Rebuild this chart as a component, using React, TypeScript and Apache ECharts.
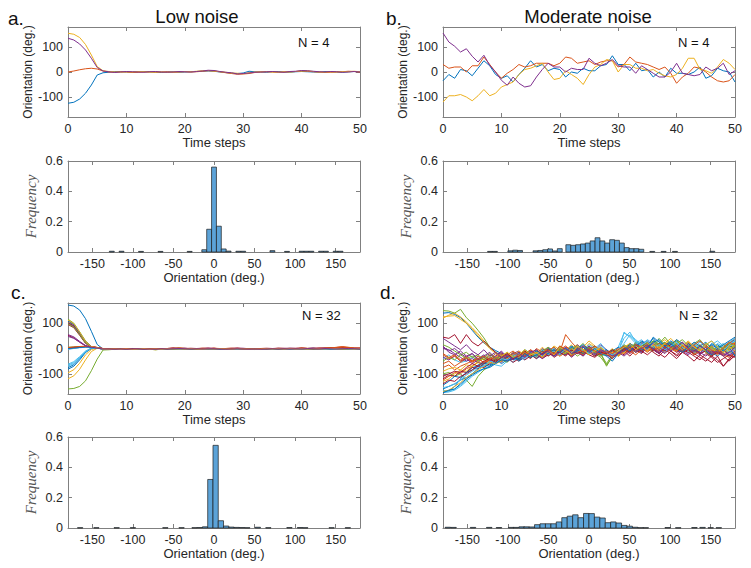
import React, { useEffect, useRef } from "react";
import * as echarts from "echarts";

// ---------- data ----------
const COLORS = ["#0072BD", "#D95319", "#EDB120", "#7E2F8E", "#77AC30", "#4DBEEE", "#A2142F"];
const TIME_STEPS = Array.from({ length: 51 }, (_, i) => i);
const TIME_TICKS = [0, 10, 20, 30, 40, 50];
const ORIENT_TICKS = [-100, 0, 100];
const HIST_X_TICKS = [-150, -100, -50, 0, 50, 100, 150];
const FREQ_TICKS = [0, 0.2, 0.4, 0.6];

// Panel a: low noise, N = 4
const A_BLUE = [-125,-121,-108,-85,-52,-12,-3,-1,2,1,0,-1,1,2,0,-1,-2,0,1,-1,0,1,2,3,4,3,0,-2,-5,-6,-4,3,1,0,-1,1,2,0,-1,1,2,1,0,-1,2,1,0,-1,1,2,0];
const A_RED = [0,4,9,13,15,12,4,0,-1,1,0,-2,-1,0,1,-1,0,1,-1,0,1,0,1,3,5,4,1,-3,-6,-9,-8,-6,-2,0,1,0,-1,0,1,2,4,3,1,0,-2,-1,0,1,3,2,-1];
const A_YELLOW = [155,151,138,110,68,22,5,2,0,-1,1,0,2,1,-1,0,1,-2,0,1,2,1,3,5,6,4,1,-1,-4,-5,-7,-3,0,1,2,0,-1,1,0,2,4,5,2,0,-1,1,0,2,1,3,1];
const A_PURPLE = [135,128,112,88,55,18,4,1,-2,0,2,1,0,-1,1,2,0,-1,0,2,1,0,2,4,7,6,2,-1,-3,-8,-6,-4,-1,0,1,2,0,-1,2,3,6,5,3,1,0,2,1,-1,0,2,0];
const PANEL_A = [A_BLUE, A_RED, A_YELLOW, A_PURPLE];

// Panel b: moderate noise, N = 4
const B_BLUE = [-35,-10,-25,10,5,-15,15,45,25,-10,-25,-15,-40,-10,15,45,20,30,5,15,10,-20,0,-5,15,5,5,25,30,65,30,30,5,35,5,10,-20,0,-20,15,-5,-5,-10,0,20,-25,-15,15,5,0,-40];
const B_RED = [30,15,20,20,0,25,25,60,30,0,-25,-5,10,30,20,25,35,35,35,25,35,60,55,35,40,45,30,40,45,45,20,30,60,40,35,30,20,10,20,-5,-45,-20,-5,20,15,0,-20,-35,-40,-35,-10];
const B_YELLOW = [-120,-95,-95,-90,-100,-115,-95,-70,-95,-85,-60,-50,-40,-10,10,15,25,35,0,-30,-25,5,-10,-25,-50,-10,20,30,50,45,0,30,30,15,15,5,10,-5,-15,-20,-10,15,55,55,10,5,-5,20,50,35,10];
const B_PURPLE = [156,120,103,80,93,63,40,67,27,0,-33,-53,-20,-45,-60,-55,-20,10,35,20,20,0,15,10,10,55,35,25,35,50,25,20,20,-5,25,10,-5,-20,-20,0,35,-5,-10,-15,-10,20,5,15,35,-10,5];
const PANEL_B = [B_BLUE, B_RED, B_YELLOW, B_PURPLE];

// Panel c: low noise, N = 32
const C00 = [172,168,152,118,68,16,-2,-3,-4,-2,-3,-1,-2,-4,-3,-1,0,-2,-1,1,-1,-2,-3,-1,-2,0,-1,-3,-2,-1,-3,-4,-2,-3,-1,-2,0,-1,-2,-3,-1,0,1,-1,-2,-3,-1,0,-2,-1,-3];
const C01 = [2,4,6,8,7,4,-1,-2,-1,-3,-2,0,-1,-3,-2,-4,-1,0,-1,2,0,-1,-2,0,-1,1,-2,-1,-3,-2,0,-2,-4,-1,-2,-3,-1,0,-2,-1,1,0,-1,-2,0,2,5,6,3,0,-1];
const C02 = [-120,-108,-82,-45,-12,1,-2,-3,-2,-4,-1,-3,-2,-1,-3,-5,-2,-1,-2,0,-2,-3,-1,-2,-1,0,-3,-2,-1,0,-2,-3,-4,-2,-1,-3,-2,-1,0,-2,-1,-3,-2,0,-1,-2,1,-1,-2,0,-2];
const C03 = [112,96,62,28,8,3,-2,-4,-3,-2,-4,-2,-3,-1,-2,-3,-1,0,-2,-1,1,-1,-2,-3,-2,-1,-2,0,-1,-2,-3,-2,-4,-3,-2,-1,-2,-3,-1,0,-1,-2,-1,1,0,-2,-1,0,-1,-3,-2];
const C04 = [-160,-158,-150,-128,-88,-42,-6,-5,-3,-4,-2,-3,-1,-2,-4,-2,-1,-2,0,-1,-2,0,-1,-2,-1,-2,-3,-1,-2,0,-1,-3,-2,-3,-1,-2,0,-1,-2,0,-2,-1,0,-1,-2,-1,0,1,-1,-2,-1];
const C05 = [-62,-52,-32,-10,2,1,-3,-2,-4,-3,-1,-2,-3,-2,-4,-3,-2,-1,-3,-1,0,-2,-1,0,-1,-2,-1,-3,-2,-1,-2,-3,-1,-4,-2,-3,-1,-2,-1,-3,0,-1,-2,0,-1,-3,-2,-1,0,-2,-1];
const C06 = [52,42,25,10,5,2,-1,-1,-2,0,-2,-1,0,-2,-1,-3,-1,0,1,0,-1,1,0,-1,0,1,-1,0,-1,1,0,-1,-2,0,-1,0,1,0,-1,0,1,0,-1,1,2,1,0,2,1,0,1];
const C07 = [-76,-64,-40,-14,1,2,-2,-3,-2,-3,-4,-2,-1,-3,-2,-4,-2,-1,-2,0,-1,-3,-2,-1,-2,-1,-2,-4,-3,-1,-2,-3,-2,-3,-2,-4,-1,-2,-3,-1,-2,0,-1,-2,-3,-1,-2,0,-1,-2,-3];
const C08 = [100,86,55,22,6,2,-2,-2,-3,-1,-2,-3,-1,-2,-3,-2,0,-1,-2,1,0,-1,-3,-1,0,-1,-2,-1,-2,0,-1,-2,-3,-1,-2,-1,0,-2,-1,0,-1,-2,0,1,0,-1,2,4,3,1,0];
const C09 = [-96,-84,-58,-25,-4,2,-2,-4,-2,-3,-2,-4,-3,-1,-2,-4,-2,-3,-1,-2,-1,-2,-3,-2,0,-2,-1,-2,-3,-2,-1,-3,-2,-4,-2,-1,-3,-2,-1,-2,-3,-1,-2,-1,0,-2,-1,-3,-2,-1,-2];
const C10 = [55,46,28,12,5,2,-2,-2,-1,-3,-2,-1,-2,-3,-2,-1,-2,0,-1,0,-2,-1,-2,0,-1,0,-2,-1,0,-2,-1,-2,-3,-2,0,-1,-2,-1,0,-1,-2,0,-1,0,1,0,-1,1,0,-1,0];
const C11 = [116,100,66,30,8,3,-2,-3,-4,-2,-3,-2,-4,-2,-3,-5,-3,-2,-1,-2,-1,-3,-2,-1,-2,0,-2,-3,-1,-2,-1,-3,-4,-2,-3,-2,-1,-2,-3,-2,-1,-2,-1,-2,-1,0,-2,-1,-3,-2,-1];
const C12 = [-66,-56,-35,-12,1,2,-2,-2,-3,-4,-2,-3,-2,-1,-3,-2,-4,-2,0,-2,-1,-2,-1,-3,-1,-2,-3,-1,-2,-1,0,-2,-3,-2,-1,-3,-2,0,-1,-2,-1,-3,-1,-2,0,-1,-2,0,-1,-3,-2];
const C13 = [95,82,52,20,6,2,-1,-1,-2,-1,0,-2,-1,-2,0,-1,-2,0,1,-1,0,-1,0,1,0,-1,0,-1,0,1,-1,0,-2,-1,0,-1,0,1,-1,0,1,0,1,0,-1,0,1,2,1,0,1];
const C14 = [-82,-70,-45,-16,0,2,-2,-4,-3,-2,-3,-1,-3,-2,-4,-3,-1,-2,-1,-2,-1,-2,-3,-2,-1,-2,-1,-2,-3,-2,-1,-2,-4,-3,-1,-2,-2,-1,-2,-1,-1,-2,-1,-2,0,-2,-1,-2,-1,-2,-3];
const C15 = [3,5,7,8,7,3,-1,-1,-2,-1,-3,-1,0,-2,-1,-2,0,-1,0,1,-1,0,-1,1,0,-1,-2,0,1,0,-1,-2,-1,0,-1,-2,0,-1,0,-1,0,1,0,-1,1,3,4,7,4,1,0];
const C16 = [105,90,58,24,6,2,-2,-2,-4,-3,-2,-3,-1,-3,-2,-3,-2,-1,-2,-1,0,-2,-1,-2,-1,0,-1,-2,-3,-1,-2,-2,-3,-2,-1,-2,-3,-1,-2,-1,-2,-1,0,-2,-1,0,-1,-2,-1,0,-2];
const C17 = [-2,1,4,6,5,2,-1,-2,-1,-2,-1,-2,0,-1,-2,-1,0,-1,0,1,0,-1,0,-1,1,0,-1,0,-1,0,1,-1,-2,0,-1,0,-1,0,1,0,-1,0,1,0,1,0,1,0,-1,1,0];
const C18 = [5,6,7,8,6,3,-2,-3,-2,-1,-3,-2,-1,-2,-3,-2,-1,0,-1,0,-1,-2,-1,-2,0,-1,-2,-1,0,-1,-2,-1,-3,-2,-1,-2,-1,-2,-1,0,-1,-2,-1,0,-1,1,0,-1,0,-1,-2];
const C19 = [-70,-60,-38,-13,1,2,-2,-3,-4,-2,-3,-2,-3,-2,-3,-4,-2,-1,-2,-1,-2,-1,-3,-2,-1,-2,-1,-3,-2,-1,-3,-2,-4,-2,-1,-3,-2,-1,-2,-3,-1,-2,-1,-2,-1,-2,-1,-2,-3,-1,-2];
const C20 = [102,90,60,25,7,2,-1,-1,-2,0,-1,-2,0,-1,-2,0,-1,0,1,0,-1,0,-1,0,1,-1,0,-1,0,1,0,-1,-2,-1,0,-1,1,0,-1,0,1,0,1,0,-1,1,0,1,0,1,0];
const C21 = [108,95,62,26,7,2,-2,-3,-2,-4,-2,-3,-2,-1,-2,-3,-2,-1,-2,0,-1,-2,-3,-2,-1,-2,-1,-2,-1,-2,-1,-3,-2,-3,-2,-1,-2,-1,-3,-2,-1,-2,-1,-3,-1,-2,0,-1,-2,-1,-2];
const C22 = [0,3,5,7,6,3,-1,-1,-2,-1,-2,0,-1,-3,-1,-2,0,-1,0,1,0,-1,-2,0,-1,1,0,-1,-2,0,-1,-2,-1,0,-2,-1,0,-1,0,-1,1,0,-1,0,1,2,3,5,2,0,1];
const C23 = [2,3,5,6,5,3,-1,-2,-3,-1,-2,-1,-2,-1,-3,-2,-1,0,-1,1,0,-2,-1,0,-1,0,-1,-2,-1,0,-1,-2,-2,-1,0,-1,-1,0,-1,-2,0,-1,0,-1,0,1,0,-1,0,-1,-1];
const C24 = [100,88,58,24,6,2,-2,-2,-3,-2,-1,-3,-2,-1,-2,-3,-1,-2,0,-1,0,-2,-1,-2,-1,0,-2,-1,-2,-1,0,-2,-3,-1,-2,-1,-2,0,-1,-2,-1,0,-1,0,-1,0,-1,0,-2,-1,-1];
const C25 = [98,84,55,22,6,2,-2,-3,-2,-3,-4,-2,-3,-1,-2,-4,-2,-1,-2,-1,0,-2,-3,-1,-2,-1,-2,-3,-1,-2,-1,-3,-3,-2,-1,-2,-3,-1,-2,-1,-2,-1,-2,0,-1,-2,-1,-3,-2,-1,-2];
const C26 = [-3,0,3,5,5,2,-2,-2,-3,-2,-1,-2,-3,-2,-1,-3,-2,-1,0,-1,-2,-1,0,-2,-1,-2,-1,-2,-1,-3,-1,-2,-4,-2,-1,-2,-1,-2,-3,-1,-2,-1,0,-1,-2,-1,-2,0,-1,-2,-1];
const C27 = [2,4,6,8,7,4,0,-1,0,-1,-2,0,-1,0,-1,-2,0,-1,1,0,1,0,-1,0,1,0,-1,0,1,0,-1,0,-1,0,1,0,-1,0,1,1,0,-1,0,1,0,2,1,2,1,0,1];
const C28 = [0,2,4,6,5,3,-1,-2,-3,-1,-2,-2,-3,-2,-1,-2,-3,-1,-2,0,-1,-2,-2,-1,-1,-2,-3,-1,-2,-1,-2,-1,-3,-2,-2,-1,-2,-1,-2,-1,0,-1,-2,-1,0,-1,0,-2,-1,0,-2];
const C29 = [4,6,8,9,8,4,0,-1,-2,-1,0,-2,-1,-2,0,-1,-1,0,1,0,-1,0,-1,0,0,-1,0,-1,0,0,-1,-1,-2,0,-1,0,0,-1,0,0,1,0,-1,0,1,2,4,6,5,2,1];
const C30 = [112,98,64,28,7,3,-2,-3,-2,-3,-2,-4,-2,-1,-3,-2,-3,-1,-2,-1,-2,-1,-2,-3,-1,-2,-1,-2,-3,-1,-2,-3,-2,-3,-1,-2,-1,-2,-1,-2,-1,-2,-1,-2,-1,0,-1,-2,-1,-2,-1];
const C31 = [48,40,25,11,5,2,-2,-2,-3,-2,-3,-2,-1,-3,-2,-3,-1,-2,-1,0,-1,-2,-1,-2,-1,-1,-2,-3,-2,-1,-2,-3,-2,-3,-2,-1,-2,-1,-2,-1,-2,0,-1,-2,0,-1,-2,-1,0,-1,-2];
const PANEL_C = [C00,C01,C02,C03,C04,C05,C06,C07,C08,C09,C10,C11,C12,C13,C14,C15,C16,C17,C18,C19,C20,C21,C22,C23,C24,C25,C26,C27,C28,C29,C30,C31];

// Panel d: moderate noise, N = 32
const D00 = [140,142,135,122,100,72,45,22,5,-8,-20,-35,-30,-40,-22,-30,-15,-20,-5,-15,-2,-20,-8,0,-15,5,-10,-25,-12,-30,-5,10,-5,20,0,15,40,10,25,5,30,10,-10,15,-20,5,-15,-30,-10,20,35];
const D01 = [-125,-110,-95,-100,-80,-70,-55,-60,-45,-50,-40,-30,-45,-25,-35,-15,-25,-5,-20,0,-10,5,-5,-20,10,-5,-15,0,-25,-10,-30,-5,15,0,-10,20,5,-10,15,0,-15,5,20,-5,10,-15,0,-20,-5,10,5];
const D02 = [120,132,140,125,105,82,58,30,5,-15,-25,-30,-20,-35,-10,-25,-20,5,-15,10,-5,-20,0,15,-10,20,5,-5,-20,-40,-10,5,-15,15,25,0,10,30,-5,15,35,10,-5,20,0,-15,-30,-5,-20,-10,15];
const D03 = [10,-15,-25,-10,-30,-20,-40,-25,-45,-30,-15,-40,-20,-10,-35,-15,-25,0,-20,-30,-5,-15,5,-10,-25,0,-10,15,-5,-20,-15,5,-10,20,10,-5,25,5,-10,15,20,0,-20,10,-10,5,-25,-15,0,-30,-20];
const D04 = [150,148,140,155,122,100,72,42,5,-15,-30,-25,-40,-20,-30,-10,-20,-35,-5,-20,10,-5,-15,0,20,-10,-30,-20,-70,-30,-15,0,20,5,-10,15,30,10,25,5,-5,15,-10,-20,5,-15,-30,-5,-15,10,0];
const D05 = [-40,-25,-45,-55,-50,-35,-45,-30,-40,-20,-25,-35,-15,-30,-5,-20,-30,-10,-25,5,-15,-5,10,-10,-5,15,0,-15,-5,-30,-20,65,45,20,35,10,25,-5,10,20,0,15,-10,5,25,10,-15,5,20,-10,-25];
const D06 = [45,40,55,20,55,25,10,30,5,-15,-40,-20,-35,-50,-25,-40,-15,-30,-10,-35,-20,-5,-25,-10,-30,-5,-20,0,-15,-35,-25,-10,-30,-5,-20,5,-15,-30,-5,-20,-40,-15,-30,-50,-25,-40,-55,-30,-70,-45,-30];
const D07 = [-170,-168,-150,-120,-95,-75,-70,-60,-55,-40,-60,-45,-30,-50,-35,-20,-40,-25,-5,-30,-15,-25,5,-10,-20,0,-15,5,-20,-5,-25,-10,15,0,-15,10,30,5,20,0,15,-5,25,0,10,-10,20,5,-15,0,25];
const D08 = [-60,-50,-70,-55,-40,-50,-30,-45,-25,-35,-20,-40,-30,-15,-35,-20,-5,-25,-10,5,-15,55,25,0,-10,10,-15,-5,-25,-10,-30,-15,5,-10,10,20,0,-15,5,-5,10,25,0,-10,15,-5,10,-15,5,20,40];
const D09 = [-130,-120,-100,-85,-90,-70,-55,-75,-45,-50,-30,-50,-35,-45,-20,-35,-10,-30,-25,-5,-20,-10,15,-15,5,30,10,-5,-20,0,-25,-10,-5,15,0,-10,5,20,35,10,0,-15,5,-25,-5,15,-10,5,-15,0,10];
const D10 = [0,-5,-20,-35,-50,-40,-55,-35,-50,-30,-10,-35,-20,-45,-30,-15,-35,-20,5,-10,-25,0,-20,15,-5,-25,5,-10,-20,-35,-15,0,-10,5,20,30,10,-5,15,25,5,-10,20,0,-20,5,-15,-5,-20,-30,-10];
const D11 = [-100,-95,-110,-100,-125,-150,-110,-85,-70,-50,-45,-55,-30,-45,-20,-35,-25,-10,-30,-5,-20,-15,-30,5,-10,-25,-5,-20,-60,-25,-10,10,-5,25,15,0,-10,20,45,15,30,10,-5,20,35,5,-15,10,0,-20,5];
const D12 = [-165,-170,-160,-145,-125,-100,-90,-80,-55,-65,-70,-50,-40,-30,-45,-20,-10,-30,-15,0,-20,-5,-15,10,-5,-20,0,20,-10,-35,5,60,50,30,15,35,20,0,-15,10,25,5,-5,15,0,-10,15,30,10,25,40];
const D13 = [-120,-105,-110,-90,-95,-75,-80,-60,-45,-55,-35,-50,-40,-25,-45,-30,-15,-40,-25,-10,-30,-15,-30,-5,-20,5,-10,-25,-15,-35,-10,-25,5,-15,-5,10,0,-20,5,-10,-25,-5,-15,-30,-45,-20,-35,-55,-40,-25,-35];
const D14 = [-145,-130,-110,-115,-95,-85,-65,-55,-65,-50,-35,-45,-25,-40,-20,-30,-10,-25,-5,-20,0,-15,10,-5,-20,5,-15,0,-30,-10,5,-15,20,5,30,15,0,20,-5,15,35,20,5,-10,10,25,0,15,-5,10,30];
const D15 = [-75,-65,-85,-70,-60,-50,-40,-55,-35,-45,-25,-40,-15,-30,-20,-5,-25,-10,0,-15,-5,10,-10,5,-15,-5,10,-10,-25,-15,0,-20,-5,15,0,-15,5,20,5,-10,15,0,25,10,-5,15,-10,-25,-5,15,20];
const D16 = [-90,-80,-75,-85,-65,-70,-50,-40,-55,-35,-25,-40,-30,-10,-25,-20,-35,-15,-5,-20,5,-10,-25,-5,10,-10,-20,0,-15,-35,-20,-5,10,-10,5,20,10,-5,15,0,-10,10,30,5,-5,20,0,-15,5,-10,-20];
const D17 = [-35,-45,-30,-50,-40,-60,-45,-35,-50,-40,-55,-30,-45,-20,-35,-10,-30,-20,-5,-25,-15,0,-20,-5,-15,10,-10,-20,-5,-30,-15,-5,10,-10,5,25,5,-15,-5,10,-15,-5,15,-10,-25,-5,10,-10,-25,-15,-5];
const D18 = [15,5,-10,-25,-15,-35,-25,-45,-30,-50,-35,-20,-40,-25,-10,-30,-15,-5,-25,-10,0,-20,-10,-30,-15,-5,-20,-35,-65,-35,-15,-5,5,15,-5,10,30,15,0,25,10,-10,5,-15,0,20,5,-10,15,-5,10];
const D19 = [-175,-172,-165,-150,-130,-110,-95,-80,-70,-55,-45,-40,-55,-30,-40,-20,-35,-10,-25,-15,-5,-20,0,-15,5,-10,-25,-5,-15,-30,-10,40,65,25,10,-5,15,30,10,-5,20,5,-10,15,30,10,-5,20,5,-15,0];
const D20 = [-140,-125,-130,-110,-100,-85,-70,-75,-60,-45,-50,-35,-55,-40,-20,-35,-25,-10,-30,-15,-5,-25,-10,-20,5,-15,-30,-10,-20,-40,-15,-5,-20,0,-10,10,-5,-20,0,15,-5,-15,10,-5,-20,-10,-30,-45,-70,-40,-20];
const D21 = [-160,-150,-140,-125,-115,-100,-80,-65,-70,-55,-50,-30,-45,-35,-15,-30,-10,-25,0,-15,5,-10,-20,0,15,-5,10,-15,-5,-25,-10,5,-10,10,25,5,45,25,10,30,15,0,20,-5,10,-10,-25,0,15,30,45];
const D22 = [-20,-35,-25,-45,-30,-50,-40,-55,-45,-35,-50,-25,-40,-15,-30,-5,-20,-35,-15,-25,-5,-15,-30,-10,-25,-5,10,-10,-20,-30,-15,0,-10,-25,-5,10,-10,5,-15,-5,10,-15,-5,-25,-10,5,-20,-5,-25,-35,-15];
const D23 = [-170,-165,-150,-135,-115,-100,-85,-70,-55,-60,-50,-40,-25,-35,-15,-30,-20,-5,-20,-10,-30,-15,0,-20,-5,-15,5,-10,-25,-15,-30,-15,0,10,-5,15,25,5,20,0,-10,15,-5,20,5,-10,10,-15,-5,10,25];
const D24 = [5,-10,0,-20,-35,-20,-45,-30,-15,-40,-25,-45,-30,-15,-35,-10,-25,-40,-20,-5,-25,-10,-35,-15,-30,-5,-20,-10,-25,-40,-15,-30,-10,5,-15,0,20,-5,-20,5,15,-10,-25,-5,-15,-30,-10,-20,-5,-25,-10];
const D25 = [-50,-35,-45,-25,-40,-30,-50,-35,-20,-40,-30,-15,-35,-25,-5,-20,-30,-10,5,-15,-5,-20,0,10,-10,5,-15,-30,-20,-5,-10,15,0,-15,10,25,5,40,15,0,20,35,10,-5,15,-10,5,-15,0,20,10];
const D26 = [-155,-150,-140,-125,-105,-90,-75,-70,-50,-55,-40,-45,-30,-20,-35,-15,-25,-5,-20,-10,-25,0,-15,5,-10,-20,-5,10,-15,-25,-10,20,55,35,15,30,5,15,-5,10,25,5,-10,20,0,15,30,5,-10,15,30];
const D27 = [-110,-100,-90,-95,-75,-60,-70,-50,-40,-55,-35,-20,-40,-30,-10,-25,-40,-20,-5,-20,-15,-30,-5,-20,-10,-25,-35,-15,-20,-5,-20,0,-15,5,-10,-25,-5,-20,-35,-10,-30,-15,-5,-20,-35,-50,-30,-15,-30,-50,-25];
const D28 = [-175,-165,-160,-140,-120,-105,-90,-80,-75,-60,-45,-50,-35,-45,-20,-35,-25,-10,-20,-5,-15,0,-20,-10,5,-15,0,-20,-30,-50,-20,5,-10,15,-5,5,25,35,10,20,0,-15,5,25,10,-5,15,0,-10,5,-30];
const D29 = [-25,-40,-30,-50,-35,-55,-40,-30,-45,-20,-35,-25,-10,-30,-15,-25,0,-15,-5,-20,10,-5,-20,5,-15,0,-10,-25,-10,-20,-5,10,-5,15,5,-10,15,0,20,5,-10,10,-5,15,30,10,-5,-20,5,25,15];
const D30 = [125,128,130,115,100,78,50,25,0,-20,-30,-15,-35,-25,-5,-25,-15,-35,-10,-25,5,-10,-20,10,-5,-25,-10,5,-15,-35,-10,5,20,-5,10,-10,15,0,20,40,15,-5,25,5,-10,15,30,5,-15,5,-10];
const D31 = [40,25,10,-5,15,-10,-25,-5,-30,-15,-35,-25,-45,-20,-35,-15,-5,-25,-10,-30,-15,5,-20,-5,10,-10,-25,-5,-15,-30,-20,-10,5,-15,0,15,-5,-20,10,-10,5,25,0,-15,10,-5,-20,-10,-30,-15,5];
const PANEL_D = [D00,D01,D02,D03,D04,D05,D06,D07,D08,D09,D10,D11,D12,D13,D14,D15,D16,D17,D18,D19,D20,D21,D22,D23,D24,D25,D26,D27,D28,D29,D30,D31];

// Histograms: bin centres (deg.), bin width (deg.), relative frequency
const HA_WIDTH = 6;
const HA_CENTERS = [-126,-114,-90,-66,-30,-12,-6,0,6,12,18,30,36,72,90,108,114,120,132,138,150,156];
const HA_FREQ = [0.005,0.005,0.004,0.004,0.004,0.015,0.15,0.56,0.17,0.02,0.006,0.005,0.005,0.009,0.004,0.005,0.005,0.005,0.005,0.005,0.005,0.005];

const HB_WIDTH = 6;
const HB_CENTERS = [-122,-116,-97,-91,-85,-66,-60,-54,-48,-42,-36,-25.5,-19.5,-13.5,-7.5,-1.5,4.5,10.5,16.5,22.5,28.5,34.5,40.5,46.5,52.5,58.5,64.5,78,92,106,152];
const HB_FREQ = [0.004,0.004,0.008,0.012,0.01,0.008,0.01,0.015,0.02,0.007,0.022,0.048,0.044,0.048,0.053,0.059,0.073,0.094,0.073,0.059,0.081,0.077,0.059,0.029,0.022,0.022,0.018,0.004,0.004,0.004,0.005];

const HC_WIDTH = 6.5;
const HC_CENTERS = [-165,-145,-120,-100,-60,-40,-24,-17.5,-11,-4.5,2,8.5,15,21.5,28,34.5,41,54,67,93,106,112.5,145,165];
const HC_FREQ = [0.002,0.002,0.002,0.002,0.002,0.002,0.002,0.003,0.008,0.32,0.545,0.048,0.013,0.006,0.004,0.003,0.002,0.005,0.002,0.003,0.003,0.002,0.002,0.002];

const HD_WIDTH = 6.7;
const HD_CENTERS = [-174,-167,-143,-123,-111,-96,-90,-83,-77,-70.5,-63.8,-57,-50.4,-43.6,-37,-30.2,-23.5,-16.8,-10,-3.4,3.3,10,16.7,23.4,30,36.8,43.5,50.2,57,63.6,70,97,110,130,140,150,160];
const HD_FREQ = [0.005,0.004,0.004,0.004,0.003,0.004,0.004,0.008,0.008,0.007,0.022,0.028,0.028,0.028,0.04,0.068,0.078,0.087,0.068,0.096,0.095,0.072,0.066,0.035,0.04,0.033,0.017,0.012,0.005,0.002,0.002,0.003,0.002,0.003,0.004,0.002,0.002];

// ---------- styling / layout ----------
const FONT = "'Liberation Sans', Arial, Helvetica, sans-serif";
const AX_COLOR = "#808080";
const TXT = "#262626";
const BAR_FILL = "#5CA3D8";
const BAR_EDGE = "#1c1c1c";

const GRIDS = [
  { left: 68, top: 27, width: 292, height: 90 },
  { left: 443, top: 27, width: 292, height: 90 },
  { left: 68, top: 161, width: 292, height: 91 },
  { left: 443, top: 161, width: 292, height: 91 },
  { left: 68, top: 303, width: 292, height: 91 },
  { left: 443, top: 303, width: 292, height: 91 },
  { left: 68, top: 437, width: 292, height: 91 },
  { left: 443, top: 437, width: 292, height: 91 },
];

function buildOption() {
  const xAxis: any[] = [];
  const yAxis: any[] = [];
  const series: any[] = [];

  const tick = (vals: number[]) => ({
    show: true,
    inside: true,
    length: 4,
    customValues: vals,
    lineStyle: { color: AX_COLOR, width: 1 },
  });
  const axLine = { show: true, onZero: false, lineStyle: { color: AX_COLOR, width: 1 } };

  GRIDS.forEach((_, gi) => {
    const isLine = gi === 0 || gi === 1 || gi === 4 || gi === 5;
    const xMin = isLine ? 0 : -180;
    const xMax = isLine ? 50 : 180;
    const xTicks = isLine ? TIME_TICKS : HIST_X_TICKS;
    const yMin = isLine ? -180 : 0;
    const yMax = isLine ? 180 : 0.6;
    const yTicks = isLine ? ORIENT_TICKS : FREQ_TICKS;

    xAxis.push({
      type: "value",
      gridIndex: gi,
      position: "bottom",
      min: xMin,
      max: xMax,
      axisLine: axLine,
      axisTick: tick(xTicks),
      splitLine: { show: false },
      axisLabel: {
        customValues: xTicks,
        color: TXT,
        fontSize: 12.5,
        fontFamily: FONT,
        margin: 5,
        showMinLabel: true,
        showMaxLabel: true,
        hideOverlap: false,
      },
      name: isLine ? "Time steps" : "Orientation (deg.)",
      nameLocation: "middle",
      nameGap: isLine ? 16 : 17,
      nameTextStyle: { color: TXT, fontSize: 13, fontFamily: FONT },
    });
    xAxis.push({
      type: "value",
      gridIndex: gi,
      position: "top",
      min: xMin,
      max: xMax,
      axisLine: axLine,
      axisTick: tick(xTicks),
      splitLine: { show: false },
      axisLabel: { show: false },
    });
    yAxis.push({
      type: "value",
      gridIndex: gi,
      position: "left",
      min: yMin,
      max: yMax,
      axisLine: axLine,
      axisTick: tick(yTicks),
      splitLine: { show: false },
      axisLabel: {
        customValues: yTicks,
        color: TXT,
        fontSize: 12.5,
        fontFamily: FONT,
        margin: 5,
        formatter: (v: number) => String(Math.round(v * 10) / 10),
      },
      name: isLine ? "Orientation (deg.)" : "Frequency",
      nameLocation: "middle",
      nameGap: isLine ? 33 : 30,
      nameTextStyle: isLine
        ? { color: TXT, fontSize: 12, fontFamily: FONT }
        : { color: "#555555", fontSize: 15, fontFamily: "'Liberation Serif', 'DejaVu Serif', serif", fontStyle: "italic" },
    });
    yAxis.push({
      type: "value",
      gridIndex: gi,
      position: "right",
      min: yMin,
      max: yMax,
      axisLine: axLine,
      axisTick: tick(yTicks),
      splitLine: { show: false },
      axisLabel: { show: false },
    });
  });

  const addLines = (panel: number[][], gi: number) => {
    panel.forEach((vals, i) => {
      series.push({
        type: "line",
        xAxisIndex: gi * 2,
        yAxisIndex: gi * 2,
        data: vals.map((v, k) => [TIME_STEPS[k], v]),
        symbol: "none",
        silent: true,
        lineStyle: { color: COLORS[i % COLORS.length], width: 1 },
        itemStyle: { color: COLORS[i % COLORS.length] },
      });
    });
  };
  addLines(PANEL_A, 0);
  addLines(PANEL_B, 1);
  addLines(PANEL_C, 4);
  addLines(PANEL_D, 5);

  const addHist = (centers: number[], freq: number[], width: number, gi: number) => {
    series.push({
      type: "custom",
      xAxisIndex: gi * 2,
      yAxisIndex: gi * 2,
      silent: true,
      encode: { x: 0, y: 2 },
      data: centers.map((c, i) => [c, width, freq[i]]),
      renderItem: (_p: any, api: any) => {
        const c = api.value(0);
        const w = api.value(1);
        const h = api.value(2);
        const p0 = api.coord([c - w / 2, h]);
        const p1 = api.coord([c + w / 2, 0]);
        return {
          type: "rect",
          shape: { x: p0[0], y: p0[1], width: p1[0] - p0[0], height: p1[1] - p0[1] },
          style: { fill: BAR_FILL, stroke: BAR_EDGE, lineWidth: 0.7 },
        };
      },
    });
  };
  addHist(HA_CENTERS, HA_FREQ, HA_WIDTH, 2);
  addHist(HB_CENTERS, HB_FREQ, HB_WIDTH, 3);
  addHist(HC_CENTERS, HC_FREQ, HC_WIDTH, 6);
  addHist(HD_CENTERS, HD_FREQ, HD_WIDTH, 7);

  const txt = (text: string, x: number, y: number, size: number, align = "left") => ({
    type: "text",
    x,
    y,
    silent: true,
    style: {
      text,
      fill: "#111111",
      font: `${size}px ${FONT}`,
      textAlign: align,
      textVerticalAlign: "middle",
    },
  });

  const graphic = [
    txt("a.", 8, 18, 19),
    txt("b.", 386, 18, 19),
    txt("c.", 11, 292, 19),
    txt("d.", 380, 292, 19),
    txt("Low noise", 197, 16, 18.5, "center"),
    txt("Moderate noise", 588, 16, 18.5, "center"),
    txt("N = 4", 298, 42, 13),
    txt("N = 4", 678, 42, 13),
    txt("N = 32", 302, 315, 13),
    txt("N = 32", 679, 315, 13),
  ];

  return {
    animation: false,
    backgroundColor: "#ffffff",
    grid: GRIDS.map((g) => ({ ...g, containLabel: false, outerBoundsMode: "none" })),
    xAxis,
    yAxis,
    series,
    graphic,
  };
}

export default function App() {
  const ref = useRef<HTMLDivElement>(null);
  useEffect(() => {
    if (!ref.current) return;
    const chart = echarts.init(ref.current, undefined, { renderer: "svg" });
    chart.setOption(buildOption() as any);
    return () => chart.dispose();
  }, []);
  return (
    <div
      ref={ref}
      style={{ position: "fixed", left: 0, top: 0, width: 751, height: 568, background: "#fff" }}
    />
  );
}
